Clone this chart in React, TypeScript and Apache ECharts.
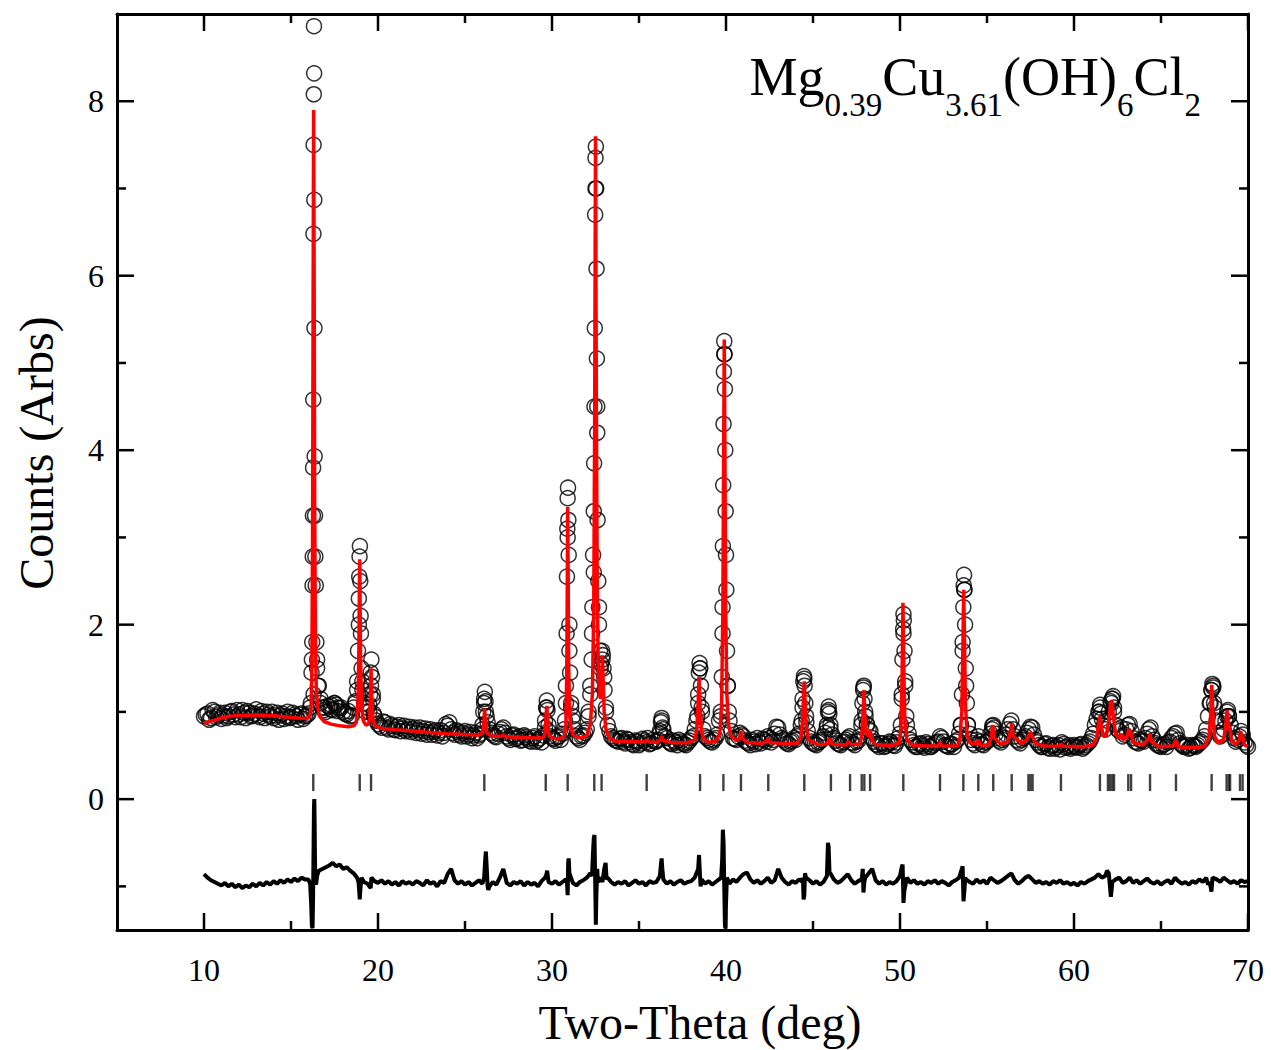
import React, { useEffect, useRef } from "react";
import * as echarts from "echarts";

// Observed intensities (open circles): background sampling
const observedBackground: [number, number][] = [
  [10.0,0.95],[10.2,0.98],[10.4,0.93],[10.6,1.0],[10.8,0.96],[11.0,0.92],[11.2,0.99],[11.4,0.95],[11.6,1.01],[11.8,0.94],
  [12.0,0.97],[12.2,1.02],[12.4,0.93],[12.6,0.99],[12.8,0.96],[13.0,1.03],[13.2,0.94],[13.4,0.98],[13.6,1.0],[13.8,0.95],
  [14.0,0.93],[14.2,0.99],[14.4,0.96],[14.6,0.92],[14.8,1.0],[15.0,0.94],[15.2,0.97],[15.4,0.91],[15.6,0.98],[15.8,0.95],
  [16.0,0.98],[16.2,1.6],[16.4,2.78],[16.6,1.3],[16.8,1.05],[17.0,1.0],[17.2,1.06],[17.4,1.02],[17.6,1.08],[17.8,1.04],
  [18.0,1.0],[18.2,0.97],[18.4,0.95],[18.6,1.05],[18.8,1.25],[19.0,2.1],[19.2,1.1],[19.4,1.05],[19.6,1.3],[19.8,0.95],
  [20.0,0.86],[20.2,0.82],[20.4,0.88],[20.6,0.8],[20.8,0.84],[21.0,0.79],[21.2,0.85],[21.4,0.81],[21.6,0.78],[21.8,0.83],
  [22.0,0.8],[22.2,0.76],[22.4,0.82],[22.6,0.78],[22.8,0.74],[23.0,0.8],[23.2,0.77],[23.4,0.73],[23.6,0.79],[23.8,0.76],
  [24.0,0.84],[24.2,0.8],[24.4,0.74],[24.6,0.77],[24.8,0.72],[25.0,0.78],[25.2,0.74],[25.4,0.7],[25.6,0.76],[25.8,0.73],
  [26.0,0.8],[26.2,1.0],[26.4,0.8],[26.6,0.74],[26.8,0.71],[27.0,0.77],[27.2,0.82],[27.4,0.72],[27.6,0.68],[27.8,0.74],
  [28.0,0.7],[28.2,0.67],[28.4,0.73],[28.6,0.69],[28.8,0.66],[29.0,0.72],[29.2,0.68],[29.4,0.65],[29.6,0.82],[29.8,0.78],
  [30.0,0.7],[30.2,0.67],[30.4,0.72],[30.6,0.75],[30.8,1.1],[31.0,1.7],[31.2,0.95],[31.4,0.72],[31.6,0.68],[31.8,0.73],
  [32.0,0.8],[32.2,1.3],[32.4,2.6],[32.6,4.5],[32.8,1.5],[33.0,1.4],[33.2,0.85],[33.4,0.72],[33.6,0.68],[33.8,0.66],
  [34.0,0.7],[34.2,0.64],[34.4,0.68],[34.6,0.63],[34.8,0.67],[35.0,0.62],[35.2,0.69],[35.4,0.65],[35.6,0.63],[35.8,0.68],
  [36.0,0.66],[36.2,0.75],[36.4,0.8],[36.6,0.7],[36.8,0.64],[37.0,0.67],[37.2,0.62],[37.4,0.66],[37.6,0.63],[37.8,0.65],
  [38.0,0.7],[38.2,0.8],[38.4,1.1],[38.6,1.05],[38.8,0.72],[39.0,0.68],[39.2,0.65],[39.4,0.7],[39.6,0.9],[39.8,1.9],
  [40.0,2.8],[40.2,0.9],[40.4,0.7],[40.6,0.68],[40.8,0.76],[41.0,0.72],[41.2,0.65],[41.4,0.62],[41.6,0.66],[41.8,0.7],
  [42.0,0.64],[42.2,0.68],[42.4,0.72],[42.6,0.65],[42.8,0.75],[43.0,0.82],[43.2,0.7],[43.4,0.66],[43.6,0.63],[43.8,0.67],
  [44.0,0.68],[44.2,0.75],[44.4,1.05],[44.6,0.95],[44.8,0.7],[45.0,0.64],[45.2,0.62],[45.4,0.66],[45.6,0.72],[45.8,0.82],
  [46.0,0.8],[46.2,0.7],[46.4,0.64],[46.6,0.62],[46.8,0.66],[47.0,0.7],[47.2,0.65],[47.4,0.62],[47.6,0.67],[47.8,0.9],
  [48.0,1.0],[48.2,0.8],[48.4,0.7],[48.6,0.63],[48.8,0.6],[49.0,0.64],[49.2,0.61],[49.4,0.66],[49.6,0.62],[49.8,0.65],
  [50.0,0.75],[50.2,1.9],[50.4,0.85],[50.6,0.68],[50.8,0.62],[51.0,0.6],[51.2,0.64],[51.4,0.59],[51.6,0.63],[51.8,0.6],
  [52.0,0.64],[52.2,0.66],[52.4,0.7],[52.6,0.62],[52.8,0.6],[53.0,0.63],[53.2,0.66],[53.4,0.75],[53.6,1.8],[53.8,1.3],
  [54.0,0.75],[54.2,0.64],[54.4,0.68],[54.6,0.66],[54.8,0.62],[55.0,0.66],[55.2,0.75],[55.4,0.82],[55.6,0.7],[55.8,0.65],
  [56.0,0.7],[56.2,0.8],[56.4,0.9],[56.6,0.72],[56.8,0.66],[57.0,0.68],[57.2,0.72],[57.4,0.8],[57.6,0.82],[57.8,0.68],
  [58.0,0.62],[58.2,0.6],[58.4,0.64],[58.6,0.58],[58.8,0.62],[59.0,0.6],[59.2,0.57],[59.4,0.63],[59.6,0.6],[59.8,0.58],
  [60.0,0.62],[60.2,0.59],[60.4,0.63],[60.6,0.6],[60.8,0.64],[61.0,0.7],[61.2,0.85],[61.4,1.0],[61.6,0.92],[61.8,0.8],
  [62.0,1.0],[62.2,1.15],[62.4,0.85],[62.6,0.78],[62.8,0.72],[63.0,0.8],[63.2,0.86],[63.4,0.7],[63.6,0.65],[63.8,0.68],
  [64.0,0.66],[64.2,0.75],[64.4,0.82],[64.6,0.68],[64.8,0.62],[65.0,0.6],[65.2,0.63],[65.4,0.65],[65.6,0.7],[65.8,0.75],
  [66.0,0.68],[66.2,0.62],[66.4,0.6],[66.6,0.58],[66.8,0.62],[67.0,0.6],[67.2,0.64],[67.4,0.68],[67.6,0.8],[67.8,1.1],
  [68.0,1.3],[68.2,0.9],[68.4,0.72],[68.6,0.8],[68.8,1.0],[69.0,0.85],[69.2,0.7],[69.4,0.68],[69.6,0.78],[69.8,0.65],
  [70.0,0.6],
];

// Observed intensities: interleaved background sampling
const observedInterleaved: [number, number][] = [
  [10.1,0.97],[10.3,0.91],[10.5,1.02],[10.7,0.94],[10.9,0.99],[11.1,0.96],[11.3,0.93],[11.5,1.0],[11.7,0.97],[11.9,1.02],
  [12.1,0.94],[12.3,0.99],[12.5,1.01],[12.7,0.95],[12.9,0.98],[13.1,0.96],[13.3,1.01],[13.5,0.93],[13.7,0.97],[13.9,1.0],
  [14.1,0.96],[14.3,0.91],[14.5,0.98],[14.7,0.95],[14.9,0.93],[15.1,0.99],[15.3,0.95],[15.5,0.97],[15.7,0.92],[15.9,0.96],
  [16.1,1.05],[16.3,1.2],[16.5,1.6],[16.7,1.1],[16.9,1.02],[17.1,1.07],[17.3,1.03],[17.5,1.1],[17.7,1.01],[17.9,1.05],
  [18.1,0.98],[18.3,1.01],[18.5,0.96],[18.7,1.12],[18.9,2.0],[19.1,1.35],[19.3,1.0],[19.5,1.08],[19.7,1.2],[19.9,0.9],
  [20.1,0.84],[20.3,0.89],[20.5,0.82],[20.7,0.86],[20.9,0.8],[21.1,0.83],[21.3,0.78],[21.5,0.84],[21.7,0.8],[21.9,0.77],
  [22.1,0.82],[22.3,0.79],[22.5,0.75],[22.7,0.81],[22.9,0.77],[23.1,0.74],[23.3,0.79],[23.5,0.76],[23.7,0.72],[23.9,0.86],
  [24.1,0.88],[24.3,0.76],[24.5,0.79],[24.7,0.74],[24.9,0.76],[25.1,0.72],[25.3,0.77],[25.5,0.73],[25.7,0.7],[25.9,0.75],
  [26.1,1.1],[26.3,0.88],[26.5,0.76],[26.7,0.72],[26.9,0.75],[27.1,0.8],[27.3,0.76],[27.5,0.7],[27.7,0.73],[27.9,0.69],
  [28.1,0.72],[28.3,0.68],[28.5,0.71],[28.7,0.67],[28.9,0.7],[29.1,0.66],[29.3,0.7],[29.5,0.73],[29.7,1.05],[29.9,0.72],
  [30.1,0.69],[30.3,0.71],[30.5,0.68],[30.7,0.8],[30.9,3.0],[31.1,1.05],[31.3,0.8],[31.5,0.7],[31.7,0.72],[31.9,0.76],
  [32.1,1.0],[32.3,1.9],[32.5,7.0],[32.7,2.2],[32.9,1.6],[33.1,1.05],[33.3,0.78],[33.5,0.7],[33.7,0.67],[33.9,0.69],
  [34.1,0.66],[34.3,0.69],[34.5,0.65],[34.7,0.62],[34.9,0.66],[35.1,0.64],[35.3,0.67],[35.5,0.7],[35.7,0.64],[35.9,0.66],
  [36.1,0.68],[36.3,0.9],[36.5,0.72],[36.7,0.66],[36.9,0.63],[37.1,0.65],[37.3,0.68],[37.5,0.64],[37.7,0.62],[37.9,0.67],
  [38.1,0.72],[38.3,0.9],[38.5,1.5],[38.7,0.8],[38.9,0.7],[39.1,0.66],[39.3,0.68],[39.5,0.74],[39.7,1.0],[39.9,5.1],
  [40.1,1.3],[40.3,0.78],[40.5,0.69],[40.7,0.72],[40.9,0.74],[41.1,0.67],[41.3,0.64],[41.5,0.68],[41.7,0.63],[41.9,0.66],
  [42.1,0.69],[42.3,0.66],[42.5,0.7],[42.7,0.68],[42.9,0.83],[43.1,0.74],[43.3,0.68],[43.5,0.64],[43.7,0.66],[43.9,0.7],
  [44.1,0.72],[44.3,0.85],[44.5,1.38],[44.7,0.78],[44.9,0.66],[45.1,0.63],[45.3,0.65],[45.5,0.68],[45.7,0.76],[45.9,1.02],
  [46.1,0.74],[46.3,0.67],[46.5,0.63],[46.7,0.65],[46.9,0.68],[47.1,0.72],[47.3,0.64],[47.5,0.66],[47.7,0.72],[47.9,1.28],
  [48.1,0.86],[48.3,0.78],[48.5,0.66],[48.7,0.62],[48.9,0.64],[49.1,0.6],[49.3,0.63],[49.5,0.65],[49.7,0.61],[49.9,0.7],
  [50.1,1.15],[50.3,1.35],[50.5,0.75],[50.7,0.65],[50.9,0.6],[51.1,0.63],[51.3,0.61],[51.5,0.65],[51.7,0.6],[51.9,0.62],
  [52.1,0.65],[52.3,0.72],[52.5,0.66],[52.7,0.61],[52.9,0.63],[53.1,0.6],[53.3,0.68],[53.5,0.85],[53.7,2.4],[53.9,0.85],
  [54.1,0.68],[54.3,0.62],[54.5,0.72],[54.7,0.63],[54.9,0.65],[55.1,0.68],[55.3,0.84],[55.5,0.75],[55.7,0.67],[55.9,0.68],
  [56.1,0.74],[56.3,0.86],[56.5,0.8],[56.7,0.68],[56.9,0.64],[57.1,0.7],[57.3,0.76],[57.5,0.83],[57.7,0.74],[57.9,0.65],
  [58.1,0.6],[58.3,0.63],[58.5,0.59],[58.7,0.61],[58.9,0.58],[59.1,0.62],[59.3,0.65],[59.5,0.59],[59.7,0.62],[59.9,0.6],
  [60.1,0.6],[60.3,0.62],[60.5,0.58],[60.7,0.62],[60.9,0.66],[61.1,0.75],[61.3,0.92],[61.5,1.05],[61.7,0.84],[61.9,0.9],
  [62.1,1.12],[62.3,1.0],[62.5,0.8],[62.7,0.82],[62.9,0.74],[63.1,0.85],[63.3,0.78],[63.5,0.66],[63.7,0.64],[63.9,0.67],
  [64.1,0.7],[64.3,0.8],[64.5,0.72],[64.7,0.64],[64.9,0.61],[65.1,0.62],[65.3,0.6],[65.5,0.66],[65.7,0.72],[65.9,0.76],
  [66.1,0.64],[66.3,0.6],[66.5,0.62],[66.7,0.59],[66.9,0.61],[67.1,0.62],[67.3,0.66],[67.5,0.72],[67.7,0.95],[67.9,1.25],
  [68.1,1.05],[68.3,0.76],[68.5,0.74],[68.7,0.9],[68.9,0.95],[69.1,0.76],[69.3,0.66],[69.5,0.72],[69.7,0.74],[69.9,0.62],
];

// Observed intensities: dense sampling on the Bragg peaks
const observedPeaks: [number, number][] = [
  [16.14,1.1],[16.18,1.45],[16.22,1.8],[16.24,2.45],[16.25,2.78],[16.26,3.25],[16.27,3.8],[16.28,4.58],[16.29,6.48],[16.3,7.5],
  [16.31,8.08],[16.32,8.86],[16.33,8.32],[16.34,6.87],[16.35,5.4],[16.36,3.93],[16.38,3.25],[16.42,2.45],[16.46,1.8],[16.5,1.5],
  [16.55,1.3],[16.7,1.15],[16.9,1.05],[17.3,1.08],[17.5,1.1],[17.7,1.05],
  [18.7,1.1],[18.8,1.35],[18.85,1.7],[18.9,2.3],[18.92,2.55],[18.94,2.78],[18.96,2.9],[18.98,2.5],[19.02,1.9],[19.06,1.5],[19.1,1.25],
  [19.5,1.0],[19.55,1.2],[19.58,1.45],[19.62,1.6],[19.66,1.4],[19.7,1.15],[19.75,0.98],
  [26.0,0.85],[26.05,1.0],[26.1,1.15],[26.14,1.23],[26.18,1.12],[26.24,0.95],
  [29.6,0.9],[29.66,1.05],[29.7,1.13],[29.74,1.02],[29.8,0.85],
  [30.75,0.9],[30.8,1.3],[30.84,1.9],[30.86,2.55],[30.88,3.1],[30.9,3.45],[30.92,3.57],[30.94,3.2],[30.96,2.8],[31.0,2.0],[31.04,1.45],[31.1,1.1],[31.2,0.9],
  [32.1,0.95],[32.2,1.2],[32.28,1.6],[32.32,2.2],[32.36,2.8],[32.4,3.3],[32.42,3.85],[32.44,4.5],[32.46,5.4],[32.48,6.7],[32.5,7.35],
  [32.52,7.48],[32.54,7.0],[32.56,6.08],[32.58,5.05],[32.6,4.2],[32.62,3.2],[32.66,2.5],[32.7,2.0],[32.76,1.7],[32.82,1.55],[32.88,1.7],
  [32.92,1.65],[32.96,1.5],[33.02,1.25],[33.1,1.0],
  [36.2,0.78],[36.26,0.88],[36.3,0.93],[36.36,0.82],
  [38.35,0.95],[38.4,1.2],[38.44,1.45],[38.48,1.56],[38.52,1.5],[38.56,1.3],[38.62,1.0],
  [39.7,0.95],[39.76,1.4],[39.8,2.2],[39.82,2.9],[39.84,3.6],[39.86,4.3],[39.88,4.9],[39.9,5.25],[39.92,5.1],[39.94,4.7],[39.96,4.0],
  [39.98,3.3],[40.02,2.4],[40.06,1.7],[40.1,1.3],[40.16,1.0],
  [44.35,0.9],[44.4,1.15],[44.44,1.35],[44.48,1.41],[44.52,1.3],[44.56,1.1],[44.62,0.88],
  [45.8,0.85],[45.86,1.0],[45.9,1.06],[45.94,0.98],[46.0,0.85],
  [47.78,0.85],[47.84,1.1],[47.88,1.25],[47.92,1.3],[47.96,1.15],[48.02,0.95],[48.1,0.85],
  [50.05,0.85],[50.1,1.2],[50.14,1.6],[50.18,1.95],[50.2,2.12],[50.22,2.05],[50.26,1.7],[50.3,1.3],[50.36,0.95],
  [53.5,0.85],[53.56,1.2],[53.6,1.7],[53.64,2.2],[53.66,2.45],[53.68,2.57],[53.7,2.4],[53.74,2.0],[53.78,1.5],[53.84,1.1],[53.9,0.85],
  [55.3,0.8],[55.36,0.85],
  [61.45,1.0],[61.5,1.08],[61.55,0.98],[62.15,1.1],[62.2,1.15],[62.25,1.18],[62.3,1.05],
  [67.85,1.1],[67.9,1.25],[67.95,1.32],[68.0,1.28],[68.05,1.1],[68.8,0.95],[68.85,1.02],[68.9,0.95],
];

// Calculated profile (red line)
const calculated: [number, number][] = [
  [10.0,0.87],[10.5,0.9],[11.0,0.93],[11.5,0.95],[12.0,0.96],[13.0,0.965],[14.0,0.955],[15.0,0.935],[15.8,0.925],
  [16.0,0.93],[16.1,0.97],[16.16,1.1],[16.2,1.5],[16.24,3.0],[16.27,5.6],[16.3,7.9],[16.33,6.0],[16.36,3.4],[16.4,1.9],[16.45,1.3],
  [16.52,1.06],[16.65,0.95],[16.9,0.89],[17.3,0.86],[17.8,0.84],[18.3,0.83],[18.6,0.84],
  [18.75,0.88],[18.85,1.1],[18.9,1.7],[18.93,2.4],[18.95,2.75],[18.97,2.3],[19.0,1.6],[19.05,1.1],[19.15,0.9],[19.3,0.85],[19.45,0.86],
  [19.52,0.92],[19.56,1.15],[19.6,1.5],[19.64,1.15],[19.7,0.92],[19.85,0.84],[20.2,0.81],
  [21.0,0.795],[22.0,0.78],[23.0,0.765],[24.0,0.75],[25.0,0.74],[25.8,0.735],
  [26.0,0.76],[26.08,0.86],[26.13,1.04],[26.18,0.86],[26.26,0.76],[26.5,0.725],
  [27.0,0.72],[27.2,0.73],[27.4,0.715],[28.0,0.71],[29.0,0.7],[29.5,0.705],
  [29.6,0.76],[29.66,0.95],[29.7,1.07],[29.74,0.95],[29.8,0.76],[29.95,0.7],[30.4,0.69],[30.7,0.72],
  [30.8,0.85],[30.85,1.5],[30.88,2.5],[30.9,3.35],[30.93,2.5],[30.96,1.5],[31.02,0.95],[31.12,0.78],[31.3,0.72],[31.7,0.7],[32.0,0.73],
  [32.2,0.85],[32.32,1.2],[32.4,2.2],[32.45,4.2],[32.5,7.6],[32.55,4.5],[32.6,2.4],[32.66,1.5],[32.72,1.2],[32.8,1.15],[32.86,1.4],
  [32.9,1.65],[32.94,1.35],[33.0,1.0],[33.1,0.8],[33.3,0.7],[33.6,0.665],
  [34.5,0.66],[35.3,0.655],[35.45,0.68],[35.6,0.655],[36.0,0.65],[36.25,0.68],[36.32,0.72],[36.4,0.67],[37.0,0.645],[37.8,0.645],
  [38.2,0.68],[38.32,0.8],[38.4,1.1],[38.45,1.4],[38.5,1.1],[38.58,0.8],[38.7,0.69],[39.0,0.65],[39.4,0.66],
  [39.65,0.75],[39.75,1.1],[39.82,2.2],[39.86,3.8],[39.9,5.27],[39.94,3.9],[39.98,2.2],[40.05,1.2],[40.15,0.85],[40.3,0.72],[40.6,0.67],
  [40.8,0.7],[40.86,0.78],[40.94,0.7],[41.2,0.65],[42.0,0.64],[42.35,0.66],[42.43,0.7],[42.5,0.65],[43.5,0.635],[44.1,0.64],
  [44.3,0.7],[44.4,0.9],[44.46,1.2],[44.5,1.35],[44.54,1.15],[44.62,0.82],[44.75,0.68],[45.2,0.63],[45.8,0.625],[45.95,0.7],
  [46.1,0.63],[46.9,0.62],[47.05,0.66],[47.2,0.625],[47.7,0.63],
  [47.82,0.75],[47.88,1.0],[47.93,1.25],[47.98,0.95],[48.05,0.75],[48.2,0.72],[48.28,0.8],[48.36,0.68],[48.6,0.625],[49.5,0.615],[49.95,0.64],
  [50.05,0.8],[50.12,1.4],[50.17,2.25],[50.22,1.5],[50.28,0.9],[50.4,0.68],[50.7,0.62],[51.5,0.61],[52.2,0.61],[52.3,0.66],[52.4,0.61],[53.3,0.61],
  [53.45,0.7],[53.55,1.0],[53.62,1.8],[53.66,2.4],[53.7,1.9],[53.76,1.1],[53.85,0.75],[54.0,0.65],[54.4,0.63],[54.5,0.68],[54.6,0.62],[55.1,0.62],
  [55.25,0.72],[55.33,0.85],[55.42,0.7],[55.8,0.63],[56.2,0.66],[56.35,0.78],[56.42,0.87],[56.5,0.72],[57.0,0.64],[57.3,0.68],[57.4,0.73],
  [57.5,0.76],[57.6,0.72],[57.8,0.64],[58.3,0.61],[59.1,0.605],[59.25,0.63],[59.4,0.605],[60.5,0.6],[61.1,0.62],
  [61.3,0.7],[61.43,0.88],[61.5,0.95],[61.58,0.82],[61.7,0.72],[61.85,0.72],[62.0,0.9],[62.1,1.1],[62.18,1.13],[62.26,0.95],[62.4,0.74],
  [62.6,0.7],[62.7,0.75],[62.8,0.68],[63.05,0.72],[63.15,0.8],[63.25,0.78],[63.4,0.65],[64.0,0.62],[64.3,0.7],[64.37,0.75],[64.45,0.66],
  [64.9,0.6],[65.7,0.61],[65.86,0.68],[66.0,0.6],[66.8,0.59],[67.5,0.6],
  [67.75,0.7],[67.85,0.95],[67.92,1.31],[67.98,1.0],[68.08,0.72],[68.3,0.64],[68.6,0.68],[68.72,0.85],[68.8,1.02],[68.88,0.85],
  [68.97,0.8],[69.05,0.68],[69.3,0.62],[69.5,0.68],[69.58,0.78],[69.66,0.72],[69.72,0.7],[69.8,0.62],[70.0,0.6],
];

// Difference curve (observed - calculated, shifted down)
const difference: [number, number][] = [
  [10.0,-0.86],[10.2,-0.9],[10.4,-0.93],[10.6,-0.95],[10.8,-0.97],[11.0,-0.99],[11.2,-0.96],[11.4,-1.0],[11.6,-0.97],[11.8,-1.01],
  [12.0,-0.98],[12.2,-1.02],[12.4,-0.99],[12.6,-1.01],[12.8,-0.97],[13.0,-1.0],[13.2,-0.96],[13.4,-0.99],[13.6,-0.95],[13.8,-0.98],
  [14.0,-0.94],[14.2,-0.97],[14.4,-0.93],[14.6,-0.96],[14.8,-0.92],[15.0,-0.95],[15.2,-0.91],[15.4,-0.94],[15.6,-0.9],[15.8,-0.92],
  [16.0,-0.92],[16.1,-0.97],[16.16,-1.2],[16.2,-1.45],[16.24,-1.48],[16.27,-1.1],[16.3,-0.5],[16.32,-0.1],[16.34,0.0],[16.36,-0.3],
  [16.38,-0.7],[16.4,-0.95],[16.44,-0.98],[16.5,-0.88],[16.6,-0.82],[16.8,-0.8],[17.0,-0.78],[17.2,-0.76],[17.4,-0.73],[17.6,-0.77],[17.8,-0.75],
  [18.0,-0.8],[18.2,-0.78],[18.4,-0.82],[18.6,-0.85],[18.8,-0.9],[18.88,-0.95],[18.92,-1.05],[18.95,-1.15],[18.98,-1.05],[19.05,-0.9],
  [19.2,-0.95],[19.4,-0.97],[19.58,-1.02],[19.62,-0.9],[19.8,-0.94],
  [20.0,-0.96],[20.2,-0.93],[20.4,-0.97],[20.6,-0.94],[20.8,-0.98],[21.0,-0.95],[21.2,-0.99],[21.4,-0.94],[21.6,-0.97],[21.8,-0.95],
  [22.0,-0.98],[22.2,-0.94],[22.4,-0.96],[22.6,-0.99],[22.8,-0.93],[23.0,-0.97],[23.2,-0.95],[23.4,-1.0],[23.6,-0.94],[23.8,-0.96],
  [24.0,-0.86],[24.2,-0.8],[24.4,-0.93],[24.6,-0.97],[24.8,-0.94],[25.0,-0.98],[25.2,-0.95],[25.4,-0.99],[25.6,-0.96],[25.8,-0.93],
  [26.0,-0.97],[26.1,-0.9],[26.16,-0.7],[26.2,-0.6],[26.24,-0.75],[26.3,-1.0],[26.34,-1.04],[26.4,-1.0],[26.6,-0.95],[26.8,-0.98],
  [27.0,-0.9],[27.2,-0.8],[27.4,-0.96],[27.6,-0.99],[27.8,-0.95],
  [28.0,-0.97],[28.2,-0.94],[28.4,-0.99],[28.6,-0.95],[28.8,-0.98],[29.0,-0.96],[29.2,-1.0],[29.4,-0.94],[29.6,-0.9],[29.68,-0.86],
  [29.72,-0.82],[29.8,-0.95],
  [30.0,-0.97],[30.2,-0.94],[30.4,-0.98],[30.6,-0.95],[30.8,-0.92],[30.86,-0.95],[30.9,-1.1],[30.93,-0.72],[30.96,-0.68],[31.0,-0.85],
  [31.2,-0.96],[31.4,-0.99],[31.6,-0.95],[31.8,-0.93],
  [32.0,-0.9],[32.2,-0.85],[32.3,-0.88],[32.36,-0.6],[32.4,-0.45],[32.44,-0.41],[32.48,-0.9],[32.52,-1.44],[32.55,-1.1],[32.6,-0.8],
  [32.64,-0.95],[32.8,-0.9],[32.9,-0.95],[33.0,-0.8],[33.08,-0.73],[33.14,-0.92],[33.2,-0.9],[33.4,-0.95],[33.6,-0.98],[33.8,-0.95],
  [34.0,-0.97],[34.2,-0.94],[34.4,-0.99],[34.6,-0.96],[34.8,-0.93],[35.0,-0.97],[35.2,-0.95],[35.4,-0.99],[35.6,-0.94],[35.8,-0.96],
  [36.0,-0.95],[36.2,-0.88],[36.26,-0.75],[36.3,-0.68],[36.34,-0.8],[36.4,-0.92],[36.6,-0.97],[36.8,-0.94],[37.0,-0.98],[37.2,-0.95],
  [37.4,-0.93],[37.6,-0.97],[37.8,-0.95],
  [38.0,-0.94],[38.2,-0.9],[38.4,-0.8],[38.45,-0.64],[38.5,-0.85],[38.54,-1.0],[38.6,-0.92],[38.8,-0.97],[39.0,-0.94],[39.2,-0.98],
  [39.4,-0.95],[39.6,-0.92],[39.72,-0.9],[39.78,-0.7],[39.82,-0.35],[39.86,-0.5],[39.9,-1.0],[39.94,-1.45],[39.97,-1.48],[40.0,-1.2],
  [40.05,-0.9],[40.2,-0.97],[40.4,-0.92],[40.6,-0.95],[40.8,-0.9],[41.0,-0.86],[41.2,-0.84],[41.4,-0.92],[41.6,-0.96],[41.8,-0.93],
  [42.0,-0.97],[42.2,-0.94],[42.4,-0.9],[42.6,-0.96],[42.8,-0.93],[43.0,-0.8],[43.2,-0.9],[43.4,-0.95],[43.6,-0.98],[43.8,-0.94],
  [44.0,-0.96],[44.2,-0.92],[44.4,-0.95],[44.42,-0.9],[44.46,-1.15],[44.5,-1.1],[44.54,-0.85],[44.6,-0.9],[44.8,-0.93],[45.0,-0.97],
  [45.2,-0.94],[45.4,-0.98],[45.6,-0.95],[45.8,-0.88],[45.86,-0.5],[45.9,-0.55],[45.95,-0.85],[46.0,-0.85],
  [46.2,-0.92],[46.4,-0.96],[46.6,-0.94],[46.8,-0.9],[47.0,-0.86],[47.2,-0.93],[47.4,-0.97],[47.6,-0.94],[47.8,-0.92],[47.86,-0.8],
  [47.9,-1.07],[47.95,-0.95],[48.0,-0.9],[48.2,-0.85],[48.4,-0.8],[48.6,-0.93],[48.8,-0.97],[49.0,-0.94],[49.2,-0.98],[49.4,-0.95],
  [49.6,-0.97],[49.8,-0.94],
  [50.0,-0.88],[50.1,-0.78],[50.15,-0.75],[50.2,-1.19],[50.25,-1.05],[50.4,-0.9],[50.6,-0.96],[50.8,-0.93],[51.0,-0.97],[51.2,-0.95],
  [51.4,-0.98],[51.6,-0.94],[51.8,-0.96],
  [52.0,-0.93],[52.2,-0.97],[52.4,-0.94],[52.6,-0.96],[52.8,-0.99],[53.0,-0.95],[53.2,-0.93],[53.4,-0.9],[53.6,-0.77],[53.65,-1.17],
  [53.7,-1.05],[53.75,-0.9],[53.8,-0.92],
  [54.0,-0.95],[54.2,-0.97],[54.4,-0.92],[54.6,-0.96],[54.8,-0.93],[55.0,-0.97],[55.2,-0.9],[55.4,-0.93],[55.6,-0.96],[55.8,-0.94],
  [56.0,-0.91],[56.2,-0.88],[56.4,-0.85],[56.6,-0.93],[56.8,-0.97],[57.0,-0.94],[57.2,-0.9],[57.4,-0.88],[57.6,-0.92],[57.8,-0.96],
  [58.0,-0.94],[58.2,-0.97],[58.4,-0.95],[58.6,-0.98],[58.8,-0.94],[59.0,-0.96],[59.2,-0.93],[59.4,-0.97],[59.6,-0.95],[59.8,-0.98],
  [60.0,-0.96],[60.2,-0.99],[60.4,-0.95],[60.6,-0.97],[60.8,-0.94],[61.0,-0.92],[61.2,-0.9],[61.4,-0.86],[61.6,-0.9],[61.8,-0.88],
  [61.9,-0.82],[62.0,-0.85],[62.12,-1.12],[62.18,-1.0],[62.2,-0.95],[62.4,-0.92],[62.6,-0.9],[62.8,-0.96],[63.0,-0.94],[63.2,-0.9],
  [63.4,-0.96],[63.6,-0.93],[63.8,-0.97],
  [64.0,-0.94],[64.2,-0.91],[64.4,-0.95],[64.6,-0.97],[64.8,-0.94],[65.0,-0.98],[65.2,-0.95],[65.4,-0.93],[65.6,-0.97],[65.8,-0.9],
  [66.0,-0.94],[66.2,-0.97],[66.4,-0.95],[66.6,-0.98],[66.8,-0.94],[67.0,-0.96],[67.2,-0.92],[67.4,-0.95],[67.6,-0.9],[67.7,-0.98],
  [67.8,-0.95],[67.9,-1.06],[67.96,-0.9],[68.0,-0.9],[68.2,-0.92],[68.4,-0.95],[68.6,-0.9],[68.8,-0.93],[69.0,-0.96],[69.2,-0.94],
  [69.4,-0.97],[69.6,-0.93],[69.8,-0.95],[70.0,-0.94],
];

// Bragg reflection positions (vertical tick marks)
const braggPositions: number[] = [
  16.28, 18.95, 19.6, 26.11, 29.64, 30.9, 32.43, 32.85, 35.44, 38.51, 39.85, 40.86, 42.43, 44.5, 46.03, 47.13,
  47.8, 47.95, 48.28, 50.19, 52.3, 53.64, 54.5, 55.36, 56.42, 57.38, 57.5, 57.62, 59.25, 61.49, 61.95, 62.07,
  62.2, 62.3, 63.12, 63.28, 64.37, 65.86, 67.91, 68.77, 68.9, 68.97, 69.54, 69.69,
];
const braggLevel = 0.19;

const xRange = [5, 70];
const yRange = [-1.5, 9];
const xMajorTicks = [10, 20, 30, 40, 50, 60, 70];
const xMinorTicks = [15, 25, 35, 45, 55, 65];
const yMajorTicks = [0, 2, 4, 6, 8];
const yMinorTicks = [-1, 1, 3, 5, 7];

const xAxisTitle = "Two-Theta (deg)";
const yAxisTitle = "Counts (Arbs)";
const formulaText = "{m|Mg}{s|0.39}{m|Cu}{s|3.61}{m|(OH)}{s|6}{m|Cl}{s|2}";

export default function App() {
  const ref = useRef<HTMLDivElement>(null);

  useEffect(() => {
    if (!ref.current) return;
    const chart = echarts.init(ref.current, null, { renderer: "svg" });
    const font = "'Liberation Serif', 'DejaVu Serif', serif";
    const axisLineOn = { show: true, onZero: false, lineStyle: { color: "#000", width: 3 } };
    const MAJOR = 17;
    const MINOR = 9;
    const TW = 2.5;

    const mkAxis = (position: string, range: number[]) => ({
      type: "value",
      min: range[0],
      max: range[1],
      position,
      splitLine: { show: false },
      axisLine: axisLineOn,
      axisTick: { show: false },
      axisLabel: { show: false },
    });

    const baseGraphic = [
      {
        type: "text",
        x: 1201,
        y: 50,
        z: 10,
        style: {
          text: formulaText,
          align: "right",
          verticalAlign: "top",
          fill: "#000",
          rich: {
            m: { fontSize: 54, fontFamily: font, lineHeight: 60, verticalAlign: "top", fill: "#000" },
            s: { fontSize: 33, fontFamily: font, lineHeight: 71, verticalAlign: "bottom", fill: "#000" },
          },
        },
      },
      {
        type: "text",
        x: 700,
        y: 1022,
        z: 10,
        style: { text: xAxisTitle, align: "center", verticalAlign: "middle", fontSize: 48, fontFamily: font, fill: "#000" },
      },
      {
        type: "text",
        x: 36,
        y: 453,
        rotation: Math.PI / 2,
        z: 10,
        style: { text: yAxisTitle, align: "center", verticalAlign: "middle", fontSize: 48, fontFamily: font, fill: "#000" },
      },
    ];

    chart.setOption({
      animation: false,
      backgroundColor: "#fff",
      grid: { left: 117, right: 23, top: 14, bottom: 120, containLabel: false },
      xAxis: [mkAxis("bottom", xRange), mkAxis("top", xRange)],
      yAxis: [mkAxis("left", yRange), mkAxis("right", yRange)],
      series: [
        {
          name: "Observed",
          type: "scatter",
          data: [...observedBackground, ...observedInterleaved, ...observedPeaks],
          symbol: "circle",
          symbolSize: 15,
          itemStyle: { color: "rgba(0,0,0,0)", borderColor: "#000", borderWidth: 1.5 },
          z: 2,
          silent: true,
        },
        {
          name: "Calculated",
          type: "line",
          data: calculated,
          showSymbol: false,
          lineStyle: { color: "#ff0000", width: 3.5 },
          z: 4,
          silent: true,
        },
        {
          name: "Difference",
          type: "line",
          data: difference,
          showSymbol: false,
          lineStyle: { color: "#000", width: 4 },
          z: 4,
          silent: true,
        },
        {
          name: "Bragg",
          type: "scatter",
          data: braggPositions.map((x) => [x, braggLevel]),
          symbol: "rect",
          symbolSize: [2.4, 17],
          itemStyle: { color: "#111" },
          z: 3,
          silent: true,
        },
      ],
      graphic: baseGraphic,
    });

    // Ticks and tick labels placed from the chart's own scales (convertToPixel)
    const toPx = (x: number, y: number) => chart.convertToPixel({ gridIndex: 0 }, [x, y]) as number[];
    const tickFill = { fill: "#000" };
    const extra: any[] = [];
    const addX = (v: number, len: number, label: boolean) => {
      const b = toPx(v, yRange[0]);
      const t = toPx(v, yRange[1]);
      extra.push({ type: "rect", z: 60, shape: { x: b[0] - TW / 2, y: b[1] - len, width: TW, height: len }, style: tickFill });
      extra.push({ type: "rect", z: 60, shape: { x: t[0] - TW / 2, y: t[1], width: TW, height: len }, style: tickFill });
      if (label) {
        extra.push({
          type: "text",
          z: 60,
          x: b[0],
          y: b[1] + 24,
          style: { text: String(v), align: "center", verticalAlign: "top", fontSize: 32, fontFamily: font, fill: "#000" },
        });
      }
    };
    const addY = (v: number, len: number, label: boolean) => {
      const l = toPx(xRange[0], v);
      const r = toPx(xRange[1], v);
      extra.push({ type: "rect", z: 60, shape: { x: l[0], y: l[1] - TW / 2, width: len, height: TW }, style: tickFill });
      extra.push({ type: "rect", z: 60, shape: { x: r[0] - len, y: r[1] - TW / 2, width: len, height: TW }, style: tickFill });
      if (label) {
        extra.push({
          type: "text",
          z: 60,
          x: l[0] - 13,
          y: l[1],
          style: { text: String(v), align: "right", verticalAlign: "middle", fontSize: 32, fontFamily: font, fill: "#000" },
        });
      }
    };
    xMajorTicks.forEach((v) => addX(v, MAJOR, true));
    xMinorTicks.forEach((v) => addX(v, MINOR, false));
    yMajorTicks.forEach((v) => addY(v, MAJOR, true));
    yMinorTicks.forEach((v) => addY(v, MINOR, false));

    chart.setOption({ graphic: [...baseGraphic, ...extra] }, { replaceMerge: ["graphic"] });

    return () => chart.dispose();
  }, []);

  return <div ref={ref} style={{ position: "absolute", left: 0, top: 0, width: 1271, height: 1050 }} />;
}
